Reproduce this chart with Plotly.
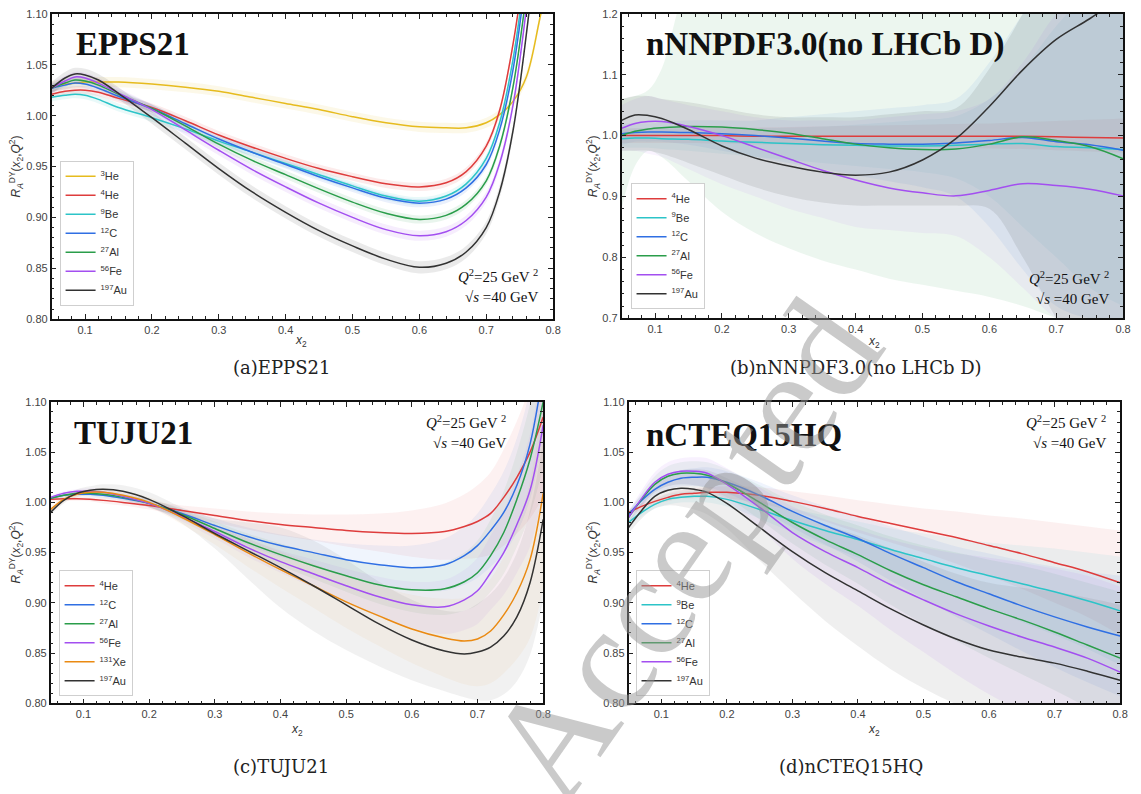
import plotly.graph_objects as go

W, H = 1141, 794

# ---------------- colours / names ----------------
COL = {"He3": (230, 187, 30), "He4": (222, 60, 60), "Be9": (44, 196, 200), "C12": (47, 111, 227),
       "Al27": (42, 157, 74), "Fe56": (163, 79, 240), "Xe131": (234, 138, 18), "Au197": (50, 50, 50)}
NAME = {"He3": "<sup>3</sup>He", "He4": "<sup>4</sup>He", "Be9": "<sup>9</sup>Be", "C12": "<sup>12</sup>C",
        "Al27": "<sup>27</sup>Al", "Fe56": "<sup>56</sup>Fe", "Xe131": "<sup>131</sup>Xe", "Au197": "<sup>197</sup>Au"}

# ---------------- (a) EPPS21 ----------------
a_x = [0.05, 0.07, 0.085, 0.10, 0.12, 0.15, 0.20, 0.25, 0.30, 0.35, 0.40, 0.45, 0.50, 0.55, 0.60, 0.64,
       0.67, 0.70, 0.72, 0.74, 0.76, 0.78, 0.80]
a_He3 = [1.029, 1.031, 1.032, 1.033, 1.033, 1.033, 1.031, 1.028, 1.024, 1.018, 1.012, 1.006, 0.999, 0.993,
         0.989, 0.988, 0.988, 0.993, 1.001, 1.014, 1.038, 1.095, 1.160]
a_He4 = [1.021, 1.024, 1.025, 1.025, 1.023, 1.017, 1.008, 0.995, 0.981, 0.969, 0.958, 0.948, 0.940, 0.933,
         0.930, 0.934, 0.945, 0.970, 1.005, 1.070, 1.160, None, None]
a_Be9 = [1.018, 1.020, 1.021, 1.020, 1.016, 1.008, 0.998, 0.987, 0.975, 0.964, 0.953, 0.942, 0.931, 0.921,
         0.916, 0.921, 0.933, 0.958, 0.993, 1.055, 1.150, None, None]
a_C12 = [1.027, 1.030, 1.032, 1.031, 1.027, 1.019, 1.007, 0.992, 0.977, 0.964, 0.952, 0.940, 0.929, 0.919,
         0.914, 0.918, 0.929, 0.952, 0.986, 1.045, 1.140, None, None]
a_Al27 = [1.027, 1.032, 1.035, 1.034, 1.030, 1.021, 1.007, 0.990, 0.972, 0.956, 0.942, 0.928, 0.915, 0.904,
          0.898, 0.902, 0.913, 0.936, 0.970, 1.028, 1.120, None, None]
a_Fe56 = [1.027, 1.034, 1.038, 1.037, 1.032, 1.022, 1.006, 0.986, 0.966, 0.947, 0.930, 0.914, 0.900, 0.888,
          0.882, 0.886, 0.897, 0.920, 0.953, 1.010, 1.105, 1.220, None]
a_Au197 = [1.027, 1.037, 1.041, 1.040, 1.035, 1.022, 0.998, 0.973, 0.948, 0.925, 0.905, 0.887, 0.872, 0.859,
           0.851, 0.855, 0.866, 0.890, 0.925, 0.985, 1.080, 1.200, None]
a_halfwidth = [0.005, 0.004, 0.004, 0.004, 0.004, 0.005, 0.006]  # He3, He4, Be9, C12, Al27, Fe56, Au197

# ---------------- (b) nNNPDF3.0 (no LHCb D) ----------------
b_x = [0.05, 0.07, 0.09, 0.11, 0.15, 0.20, 0.25, 0.30, 0.35, 0.40, 0.45, 0.50, 0.55, 0.60, 0.65, 0.70, 0.75, 0.80]
b_He4 = [1.000, 1.000, 1.000, 1.000, 1.000, 1.000, 0.999, 0.999, 0.999, 0.999, 0.999, 0.999, 0.999, 0.999,
         0.999, 0.998, 0.997, 0.996]
b_Be9 = [0.995, 0.996, 0.996, 0.995, 0.994, 0.991, 0.989, 0.987, 0.985, 0.984, 0.983, 0.983, 0.984, 0.986,
         0.987, 0.982, 0.980, 0.977]
b_C12 = [1.003, 1.005, 1.006, 1.006, 1.005, 1.003, 1.000, 0.996, 0.991, 0.987, 0.986, 0.986, 0.988, 0.992,
         0.997, 0.990, 0.985, 0.976]
b_Al27 = [1.000, 1.007, 1.011, 1.013, 1.015, 1.014, 1.010, 1.004, 0.995, 0.986, 0.980, 0.977, 0.978, 0.986,
          0.998, 0.992, 0.982, 0.962]
b_Fe56 = [1.012, 1.020, 1.023, 1.023, 1.015, 1.000, 0.981, 0.962, 0.943, 0.927, 0.914, 0.906, 0.901, 0.910,
          0.921, 0.918, 0.912, 0.901]
b_Au197 = [1.025, 1.034, 1.033, 1.028, 1.010, 0.983, 0.963, 0.950, 0.940, 0.935, 0.940, 0.960, 0.995, 1.048,
           1.108, 1.158, 1.192, 1.230]
b_He4_lo = [0.988, 0.988, 0.988, 0.988, 0.988, 0.987, 0.986, 0.985, 0.984, 0.983, 0.982, 0.981, 0.980, 0.979,
            0.978, 0.976, 0.974, 0.972]
b_He4_hi = [1.012, 1.012, 1.012, 1.012, 1.012, 1.013, 1.013, 1.014, 1.015, 1.016, 1.017, 1.018, 1.019, 1.020,
            1.022, 1.024, 1.026, 1.028]
b_Be9_lo = [0.980, 0.980, 0.980, 0.978, 0.975, 0.970, 0.965, 0.960, 0.955, 0.950, 0.945, 0.940, 0.930, 0.900,
            0.850, 0.800, 0.750, 0.720]
b_Be9_hi = [1.010, 1.012, 1.012, 1.012, 1.012, 1.012, 1.012, 1.013, 1.015, 1.018, 1.022, 1.026, 1.032, 1.060,
            1.110, 1.180, 1.240, 1.300]
b_C12_lo = [0.985, 0.990, 0.990, 0.990, 0.985, 0.975, 0.965, 0.955, 0.945, 0.935, 0.925, 0.915, 0.900, 0.850,
            0.780, 0.720, 0.700, 0.700]
b_C12_hi = [1.020, 1.020, 1.020, 1.022, 1.025, 1.025, 1.025, 1.030, 1.035, 1.040, 1.045, 1.050, 1.060, 1.120,
            1.200, 1.280, 1.300, 1.300]
b_Al27_lo = [0.880, 0.950, 0.975, 0.965, 0.925, 0.875, 0.840, 0.815, 0.795, 0.780, 0.765, 0.755, 0.745, 0.735,
             0.720, 0.700, 0.680, 0.660]
b_Al27_hi = [1.060, 1.065, 1.075, 1.110, 1.250, 1.300, 1.300, 1.300, 1.300, 1.300, 1.300, 1.300, 1.300, 1.300,
             1.300, 1.300, 1.300, 1.300]
b_Fe56_lo = [0.975, 0.975, 0.970, 0.965, 0.945, 0.920, 0.900, 0.880, 0.865, 0.850, 0.845, 0.840, 0.835, 0.800,
             0.750, 0.700, 0.680, 0.660]
b_Fe56_hi = [1.050, 1.060, 1.065, 1.060, 1.050, 1.040, 1.030, 1.025, 1.025, 1.025, 1.030, 1.035, 1.040, 1.060,
             1.120, 1.200, 1.250, 1.300]
b_Au197_lo = [0.975, 0.975, 0.975, 0.970, 0.955, 0.935, 0.915, 0.900, 0.890, 0.885, 0.885, 0.885, 0.885, 0.880,
              0.800, 0.700, 0.620, 0.550]
b_Au197_hi = [1.060, 1.065, 1.065, 1.060, 1.055, 1.045, 1.035, 1.030, 1.030, 1.030, 1.035, 1.040, 1.045, 1.110,
              1.200, 1.300, 1.350, 1.400]

# ---------------- (c) TUJU21 ----------------
c_x = [0.05, 0.07, 0.09, 0.11, 0.13, 0.16, 0.20, 0.25, 0.30, 0.35, 0.40, 0.45, 0.50, 0.55, 0.60, 0.65,
       0.68, 0.70, 0.72, 0.74, 0.76, 0.78, 0.80]
c_He4 = [1.003, 1.0035, 1.0035, 1.003, 1.002, 1.000, 0.997, 0.992, 0.987, 0.982, 0.978, 0.975, 0.972, 0.970,
         0.969, 0.971, 0.976, 0.981, 0.989, 1.005, 1.025, 1.050, 1.085]
c_C12 = [1.004, 1.007, 1.008, 1.008, 1.007, 1.004, 0.999, 0.989, 0.977, 0.966, 0.957, 0.950, 0.943, 0.938,
         0.935, 0.938, 0.947, 0.957, 0.972, 0.990, 1.017, 1.058, 1.130]
c_Al27 = [1.004, 1.007, 1.009, 1.009, 1.008, 1.005, 0.999, 0.988, 0.974, 0.960, 0.948, 0.937, 0.927, 0.918,
          0.913, 0.914, 0.921, 0.930, 0.947, 0.970, 1.003, 1.043, 1.100]
c_Fe56 = [1.005, 1.009, 1.011, 1.011, 1.010, 1.006, 0.999, 0.986, 0.971, 0.955, 0.941, 0.929, 0.917, 0.906,
          0.898, 0.896, 0.903, 0.912, 0.930, 0.950, 0.978, 1.012, 1.077]
c_Xe131 = [0.993, 1.003, 1.008, 1.010, 1.010, 1.007, 1.000, 0.985, 0.968, 0.950, 0.933, 0.917, 0.901, 0.887,
           0.874, 0.865, 0.862, 0.864, 0.872, 0.888, 0.910, 0.943, 1.009]
c_Au197 = [0.990, 1.002, 1.009, 1.012, 1.013, 1.011, 1.003, 0.987, 0.969, 0.952, 0.935, 0.917, 0.898, 0.879,
           0.863, 0.852, 0.849, 0.851, 0.856, 0.867, 0.886, 0.920, 0.983]
c_He4_w = [0.002, 0.002, 0.002, 0.002, 0.003, 0.003, 0.004, 0.005, 0.007, 0.009, 0.011, 0.013, 0.016, 0.019,
           0.023, 0.028, 0.032, 0.036, 0.041, 0.048, 0.056, 0.066, 0.080]
c_C12_w = [0.002, 0.002, 0.002, 0.003, 0.003, 0.003, 0.004, 0.005, 0.007, 0.009, 0.011, 0.013, 0.016, 0.019,
           0.022, 0.026, 0.029, 0.032, 0.036, 0.041, 0.047, 0.055, 0.065]
c_Al27_w = [0.002, 0.002, 0.002, 0.003, 0.003, 0.003, 0.004, 0.005, 0.007, 0.009, 0.011, 0.013, 0.016, 0.019,
            0.022, 0.026, 0.029, 0.032, 0.036, 0.041, 0.047, 0.055, 0.065]
c_Fe56_w = [0.002, 0.002, 0.002, 0.003, 0.003, 0.003, 0.004, 0.005, 0.007, 0.009, 0.011, 0.014, 0.017, 0.020,
            0.023, 0.027, 0.030, 0.033, 0.037, 0.042, 0.048, 0.056, 0.066]
c_Xe131_w = [0.003, 0.003, 0.003, 0.003, 0.004, 0.004, 0.005, 0.007, 0.010, 0.014, 0.018, 0.022, 0.026, 0.030,
             0.034, 0.039, 0.043, 0.047, 0.052, 0.058, 0.066, 0.078, 0.095]
c_Au197_w = [0.003, 0.003, 0.004, 0.004, 0.005, 0.006, 0.007, 0.008, 0.015, 0.028, 0.040, 0.045, 0.045, 0.042,
             0.040, 0.040, 0.043, 0.048, 0.053, 0.058, 0.064, 0.072, 0.080]

# ---------------- (d) nCTEQ15HQ ----------------
d_x = [0.05, 0.07, 0.09, 0.11, 0.13, 0.15, 0.17, 0.20, 0.25, 0.30, 0.35, 0.40, 0.45, 0.50, 0.55, 0.60,
       0.65, 0.70, 0.75, 0.80]
d_He4 = [0.990, 0.996, 1.001, 1.005, 1.008, 1.009, 1.010, 1.010, 1.007, 1.001, 0.994, 0.986, 0.979, 0.972,
         0.965, 0.957, 0.949, 0.940, 0.931, 0.920]
d_Be9 = [0.980, 0.990, 0.998, 1.003, 1.005, 1.006, 1.006, 1.003, 0.993, 0.982, 0.972, 0.963, 0.953, 0.944,
         0.935, 0.927, 0.919, 0.911, 0.902, 0.892]
d_C12 = [0.988, 1.002, 1.013, 1.020, 1.024, 1.025, 1.025, 1.020, 1.007, 0.991, 0.977, 0.964, 0.949, 0.935,
         0.921, 0.909, 0.897, 0.886, 0.876, 0.867]
d_Al27 = [0.985, 1.003, 1.018, 1.026, 1.029, 1.029, 1.027, 1.019, 1.000, 0.980, 0.963, 0.948, 0.932, 0.918,
          0.906, 0.894, 0.883, 0.871, 0.858, 0.845]
d_Fe56 = [0.985, 1.004, 1.020, 1.028, 1.031, 1.031, 1.029, 1.018, 0.995, 0.970, 0.951, 0.935, 0.918, 0.903,
          0.889, 0.877, 0.866, 0.856, 0.845, 0.831]
d_Au197 = [0.975, 0.992, 1.006, 1.012, 1.014, 1.013, 1.010, 0.999, 0.975, 0.951, 0.930, 0.912, 0.894, 0.878,
           0.864, 0.853, 0.846, 0.840, 0.832, 0.823]
d_He4_w = [0.003, 0.003, 0.003, 0.004, 0.004, 0.005, 0.005, 0.006, 0.008, 0.010, 0.013, 0.016, 0.019, 0.022,
           0.026, 0.030, 0.035, 0.040, 0.045, 0.052]
d_Be9_w = [0.004, 0.004, 0.004, 0.005, 0.005, 0.006, 0.006, 0.007, 0.009, 0.012, 0.015, 0.018, 0.021, 0.025,
           0.029, 0.033, 0.038, 0.043, 0.048, 0.054]
d_C12_w = [0.004, 0.005, 0.006, 0.007, 0.008, 0.009, 0.010, 0.011, 0.013, 0.016, 0.019, 0.023, 0.027, 0.031,
           0.035, 0.040, 0.045, 0.050, 0.055, 0.060]
d_Al27_w = [0.005, 0.006, 0.008, 0.010, 0.011, 0.012, 0.013, 0.014, 0.017, 0.021, 0.025, 0.029, 0.034, 0.039,
            0.044, 0.049, 0.054, 0.058, 0.062, 0.066]
d_Fe56_w = [0.006, 0.008, 0.010, 0.012, 0.013, 0.014, 0.015, 0.016, 0.020, 0.026, 0.032, 0.038, 0.045, 0.052,
            0.060, 0.068, 0.074, 0.078, 0.082, 0.085]
d_Au197_w = [0.006, 0.008, 0.012, 0.015, 0.018, 0.020, 0.022, 0.025, 0.033, 0.040, 0.048, 0.055, 0.060, 0.063,
             0.065, 0.067, 0.069, 0.071, 0.073, 0.075]

# ---------------- figure ----------------
fig = go.Figure()


def rgba(key, a):
    r, g, b = COL[key]
    return f"rgba({r},{g},{b},{a})"


def clean(xs, ys):
    px, py = [], []
    for x, y in zip(xs, ys):
        if y is None:
            break
        px.append(x)
        py.append(y)
    return px, py


def add_band(xa, ya, xs, lo, hi, key, alpha):
    fig.add_trace(go.Scatter(x=xs, y=lo, xaxis=xa, yaxis=ya, mode="lines",
                             line=dict(width=0, shape="spline", smoothing=1), showlegend=False, hoverinfo="skip"))
    fig.add_trace(go.Scatter(x=xs, y=hi, xaxis=xa, yaxis=ya, mode="lines", fill="tonexty",
                             fillcolor=rgba(key, alpha),
                             line=dict(width=0, shape="spline", smoothing=1), showlegend=False, hoverinfo="skip"))


def add_line(xa, ya, xs, ys, key, legend):
    fig.add_trace(go.Scatter(x=xs, y=ys, xaxis=xa, yaxis=ya, mode="lines", name=NAME[key], legend=legend,
                             line=dict(color=rgba(key, 1), width=1.5, shape="spline", smoothing=1)))


# (a)
a_series = [("He3", a_He3), ("He4", a_He4), ("Be9", a_Be9), ("C12", a_C12), ("Al27", a_Al27),
            ("Fe56", a_Fe56), ("Au197", a_Au197)]
for (k, ys), w in zip(a_series, a_halfwidth):
    xs, yy = clean(a_x, ys)
    add_band("x", "y", xs, [v - w for v in yy], [v + w for v in yy], k, 0.10)
for k, ys in a_series:
    xs, yy = clean(a_x, ys)
    add_line("x", "y", xs, yy, k, "legend")

# (b)
b_series = [("He4", b_He4, b_He4_lo, b_He4_hi), ("Be9", b_Be9, b_Be9_lo, b_Be9_hi),
            ("C12", b_C12, b_C12_lo, b_C12_hi), ("Al27", b_Al27, b_Al27_lo, b_Al27_hi),
            ("Fe56", b_Fe56, b_Fe56_lo, b_Fe56_hi), ("Au197", b_Au197, b_Au197_lo, b_Au197_hi)]
b_alpha = {"He4": 0.08, "Be9": 0.07, "C12": 0.08, "Al27": 0.09, "Fe56": 0.07, "Au197": 0.10}
for k, ys, lo, hi in b_series:
    add_band("x2", "y2", b_x, lo, hi, k, b_alpha[k])
for k, ys, lo, hi in b_series:
    add_line("x2", "y2", b_x, ys, k, "legend2")

# (c)
c_series = [("He4", c_He4, c_He4_w), ("C12", c_C12, c_C12_w), ("Al27", c_Al27, c_Al27_w),
            ("Fe56", c_Fe56, c_Fe56_w), ("Xe131", c_Xe131, c_Xe131_w), ("Au197", c_Au197, c_Au197_w)]
c_alpha = {"He4": 0.07, "C12": 0.07, "Al27": 0.07, "Fe56": 0.07, "Xe131": 0.05, "Au197": 0.07}
for k, ys, w in c_series:
    add_band("x3", "y3", c_x, [v - d for v, d in zip(ys, w)], [v + d for v, d in zip(ys, w)], k, c_alpha[k])
for k, ys, w in c_series:
    add_line("x3", "y3", c_x, ys, k, "legend3")

# (d)
d_series = [("He4", d_He4, d_He4_w), ("Be9", d_Be9, d_Be9_w), ("C12", d_C12, d_C12_w),
            ("Al27", d_Al27, d_Al27_w), ("Fe56", d_Fe56, d_Fe56_w), ("Au197", d_Au197, d_Au197_w)]
for k, ys, w in d_series:
    add_band("x4", "y4", d_x, [v - d for v, d in zip(ys, w)], [v + d for v, d in zip(ys, w)], k, 0.08)
for k, ys, w in d_series:
    add_line("x4", "y4", d_x, ys, k, "legend4")

# ---------------- axes ----------------
TICKFONT = dict(family="Liberation Sans, Arial", size=11, color="#444")


def xax(dom, anchor):
    return dict(domain=dom, anchor=anchor, range=[0.05, 0.8], dtick=0.1, tick0=0, tickformat=".1f",
                ticks="inside", ticklen=5, tickwidth=1, tickcolor="#222", showline=True, linecolor="#111",
                linewidth=1.5, mirror="ticks", showgrid=False, zeroline=False, tickfont=TICKFONT,
                ticklabeloverflow="allow",
                minor=dict(ticks="inside", ticklen=3, dtick=0.02, tick0=0, tickcolor="#222", showgrid=False))


def yax(dom, anchor, rng, dt, mdt, fmt):
    return dict(domain=dom, anchor=anchor, range=rng, dtick=dt, tick0=0, tickformat=fmt,
                ticks="inside", ticklen=5, tickwidth=1, tickcolor="#222", showline=True, linecolor="#111",
                linewidth=1.5, mirror="ticks", showgrid=False, zeroline=False, tickfont=TICKFONT,
                ticklabeloverflow="allow",
                minor=dict(ticks="inside", ticklen=3, dtick=mdt, tick0=0, tickcolor="#222", showgrid=False))


def px_x(a, b):
    return [a / W, b / W]


def px_y(top, bot):
    return [1 - bot / H, 1 - top / H]


fig.update_layout(
    xaxis=xax(px_x(52, 557), "y"), yaxis=yax(px_y(8, 318), "x", [0.8, 1.1], 0.05, 0.01, ".2f"),
    xaxis2=xax(px_x(626, 1131), "y2"), yaxis2=yax(px_y(8, 317), "x2", [0.7, 1.2], 0.1, 0.02, ".1f"),
    xaxis3=xax(px_x(51, 547), "y3"), yaxis3=yax(px_y(402, 708), "x3", [0.8, 1.1], 0.05, 0.01, ".2f"),
    xaxis4=xax(px_x(633, 1128), "y4"), yaxis4=yax(px_y(402, 708), "x4", [0.8, 1.1], 0.05, 0.01, ".2f"),
)

LEGSTYLE = dict(xanchor="left", yanchor="top", bgcolor="white", bordercolor="#cfcfcf", borderwidth=1,
                font=dict(family="Liberation Sans, Arial", size=11, color="#333"), itemwidth=30,
                tracegroupgap=0, traceorder="normal")


def lpos(x, y):
    return dict(x=x / W, y=1 - y / H)


fig.update_layout(
    legend=dict(**lpos(60, 157), **LEGSTYLE),
    legend2=dict(**lpos(635, 180), **LEGSTYLE),
    legend3=dict(**lpos(59, 573), **LEGSTYLE),
    legend4=dict(**lpos(640, 573), **LEGSTYLE),
)

# ---------------- annotations ----------------
ann = []
SERIF = "Liberation Serif, Times New Roman, serif"


def note(text, x, y, size, family=SERIF, xanchor="center", yanchor="middle", color="#111", angle=0,
         align="center"):
    ann.append(dict(text=text, x=x / W, y=1 - y / H, xref="paper", yref="paper",
                    showarrow=False, xanchor=xanchor, yanchor=yanchor, textangle=angle, align=align,
                    font=dict(family=family, size=size, color=color)))


# panel titles
note("<b>EPPS21</b>", 75, 39, 33, xanchor="left")
note("<b>nNNPDF3.0(no LHCb D)</b>", 649, 39, 33, xanchor="left")
note("<b>TUJU21</b>", 73, 434, 33, xanchor="left")
note("<b>nCTEQ15HQ</b>", 649, 436, 33, xanchor="left")

# kinematics
kin = "<i>Q</i><sup>2</sup>=25 GeV <sup>2</sup><br>√<i>s</i> =40 GeV"
note(kin, 545, 284, 15, xanchor="right", align="right")
note(kin, 1120, 286, 15, xanchor="right", align="right")
note(kin, 513, 433, 15, xanchor="right", align="right")
note(kin, 1117, 433, 15, xanchor="right", align="right")

# axis titles
xt = "<i>x</i><sub>2</sub>"
note(xt, 303, 340, 12, family="Liberation Sans, Arial", color="#333")
note(xt, 880, 341, 12, family="Liberation Sans, Arial", color="#333")
note(xt, 299, 735, 12, family="Liberation Sans, Arial", color="#333")
note(xt, 880, 735, 12, family="Liberation Sans, Arial", color="#333")
yt = "<i>R</i><sub><i>A</i></sub><sup>DY</sup>(<i>x</i><sub>2</sub>,<i>Q</i><sup>2</sup>)"
note(yt, 16, 163, 12, family="Liberation Sans, Arial", color="#333", angle=-90)
note(yt, 597, 163, 12, family="Liberation Sans, Arial", color="#333", angle=-90)
note(yt, 16, 555, 12, family="Liberation Sans, Arial", color="#333", angle=-90)
note(yt, 597, 555, 12, family="Liberation Sans, Arial", color="#333", angle=-90)

# captions
CAP = "DejaVu Serif, serif"
note("(a)EPPS21", 283, 367, 18, family=CAP, color="#222")
note("(b)nNNPDF3.0(no LHCb D)", 862, 367, 18, family=CAP, color="#222")
note("(c)TUJU21", 283, 772, 18, family=CAP, color="#222")
note("(d)nCTEQ15HQ", 857, 772, 18, family=CAP, color="#222")

# watermark
note("Accepted", 688, 552, 150, family=SERIF, color="rgba(150,150,150,0.5)", angle=-55)

fig.update_layout(annotations=ann, width=W, height=H, margin=dict(l=0, r=0, t=0, b=0),
                  paper_bgcolor="white", plot_bgcolor="white", hovermode=False)

# remove the default 8px page margin so the figure fills the window exactly
fig.write_html("out.html", config={"displayModeBar": False},
               post_script="document.body.style.margin='0';")
